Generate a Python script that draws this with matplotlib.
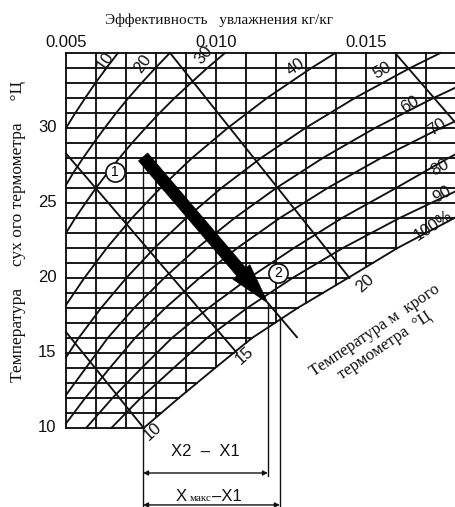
import numpy as np
import matplotlib.pyplot as plt

# Психрометрическая диаграмма: влагосодержание X (кг/кг) и температура сухого термометра (°C)
w_ticks = [0.005, 0.010, 0.015]
w_tick_labels = ['0.005', '0.010', '0.015']
t_ticks = [10, 15, 20, 25, 30]
w_grid = [0.005, 0.006, 0.007, 0.008, 0.009, 0.010, 0.011, 0.012,
          0.013, 0.014, 0.015, 0.016, 0.017]
t_grid = list(range(10, 36))

# линия насыщения (100 %)
sat_t = [10, 12, 14, 16, 18, 20, 22, 24, 25.5]
sat_w = [0.00759, 0.00876, 0.00997, 0.01120, 0.01272, 0.01440, 0.01605, 0.01795, 0.0195]

rh10_t = [30.0, 31, 32, 33, 34, 35]
rh10_w = [0.00500, 0.00531, 0.00564, 0.00598, 0.00635, 0.00673]
rh20_t = [26.2, 27, 28, 29, 30, 31, 32, 33, 34, 35]
rh20_w = [0.00500, 0.00524, 0.00557, 0.00592, 0.00629, 0.00667, 0.00708, 0.00752, 0.00798, 0.00846]
rh30_t = [23.0, 24, 25, 26, 27, 28, 29, 30, 31, 32, 33, 34, 35]
rh30_w = [0.00500, 0.00531, 0.00565, 0.00600, 0.00638, 0.00678, 0.00720, 0.00765,
          0.00812, 0.00862, 0.00916, 0.00971, 0.01030]
rh40_t = [18.2, 20, 22, 24, 26, 28, 30, 32, 34, 35]
rh40_w = [0.00500, 0.00561, 0.00636, 0.00720, 0.00815, 0.00920, 0.01039, 0.01170, 0.01318, 0.01398]
rh50_t = [14.7, 16, 18, 20, 22, 24, 26, 28, 30, 32, 34, 35]
rh50_w = [0.00500, 0.00542, 0.00617, 0.00701, 0.00795, 0.00901, 0.01018, 0.01150,
          0.01298, 0.01463, 0.01647, 0.01748]
rh60_t = [12.2, 14, 16, 18, 20, 22, 24, 26, 28, 30, 32, 33]
rh60_w = [0.00500, 0.00566, 0.00639, 0.00727, 0.00827, 0.00937, 0.01062, 0.01201,
          0.01356, 0.01530, 0.01725, 0.01831]
rh70_t = [10.3, 12, 14, 16, 18, 20, 22, 24, 26, 28, 30, 31]
rh70_w = [0.00500, 0.00564, 0.00646, 0.00730, 0.00831, 0.00945, 0.01071, 0.01213,
          0.01372, 0.01550, 0.01749, 0.01856]
rh80_t = [10, 12, 14, 16, 18, 20, 22, 24, 26, 28, 29]
rh80_w = [0.00567, 0.00655, 0.00752, 0.00853, 0.00975, 0.01110, 0.01260, 0.01420,
          0.01600, 0.01775, 0.01870]
rh90_t = [10, 12, 14, 16, 18, 20, 22, 24, 26, 27]
rh90_w = [0.00651, 0.00749, 0.00859, 0.00970, 0.01104, 0.01255, 0.01423, 0.01612, 0.01822, 0.0194]

rh_lines = [(rh10_w, rh10_t), (rh20_w, rh20_t), (rh30_w, rh30_t), (rh40_w, rh40_t),
            (rh50_w, rh50_t), (rh60_w, rh60_t), (rh70_w, rh70_t), (rh80_w, rh80_t),
            (rh90_w, rh90_t)]
rh_labels = ['10', '20', '30', '40', '50', '60', '70', '80', '90', '100%']
rh_label_w = [0.0063, 0.00757, 0.0096, 0.01267, 0.01553, 0.01647, 0.01737, 0.01747, 0.01753, 0.01723]
rh_label_t = [34.5, 34.25, 34.85, 34.05, 33.85, 31.6, 30.05, 27.4, 25.55, 23.5]
rh_label_rot = [55, 55, 50, 35, 30, 30, 35, 30, 30, 33]

# линии температуры мокрого термометра: (W, T) начала и конца
wb_labels = ['10', '15', '20']
wb10_w = [0.00759, 0.00500]
wb10_t = [10.0, 16.4]
wb15_w = [0.01070, 0.00500]
wb15_t = [15.0, 28.3]
wb20_w = [0.01445, 0.00847]
wb20_t = [20.0, 35.0]
wb25_w = [0.0203, 0.01597]
wb25_t = [25.0, 35.0]
wb_label_w = [0.0079, 0.01097, 0.01497]
wb_label_t = [9.75, 14.85, 19.65]

# процесс увлажнения 1 -> 2
x1, t1 = 0.00757, 28.07
x2, t2 = 0.01173, 18.33
xmax, tmax = 0.01213, 17.35
x_end, t_end = 0.0127, 16.05

ink = '#111111'
sans = 'Liberation Sans'
serif = 'Liberation Serif'

fig = plt.figure(figsize=(4.56, 5.07), dpi=100)
ax = fig.add_axes([0, 0, 1, 1])
ax.set_xlim(0.0028, 0.018)
ax.set_ylim(4.733, 38.533)
ax.axis('off')

lw = 1.35
# вертикальная сетка
for w in w_grid:
    t_low = 10 if w <= sat_w[0] else np.interp(w, sat_w, sat_t)
    ax.plot([w, w], [t_low, 35], color=ink, lw=lw)
# горизонтальная сетка
for t in t_grid:
    w_hi = np.interp(t, sat_t, sat_w)
    ax.plot([0.005, w_hi], [t, t], color=ink, lw=lw)

ax.plot(sat_w, sat_t, color=ink, lw=lw)
for w, t in rh_lines:
    ax.plot(w, t, color=ink, lw=lw)
for w, t in [(wb10_w, wb10_t), (wb15_w, wb15_t), (wb20_w, wb20_t), (wb25_w, wb25_t)]:
    ax.plot(w, t, color=ink, lw=lw)

for s, w, t, r in zip(rh_labels, rh_label_w, rh_label_t, rh_label_rot):
    ax.text(w, t, s, fontsize=12, family=sans, rotation=r, ha='center', va='center', color=ink)
for s, w, t in zip(wb_labels, wb_label_w, wb_label_t):
    ax.text(w, t, s, fontsize=12, family=sans, rotation=42, ha='center', va='center', color=ink)

# подписи осей
for w, s in zip(w_ticks, w_tick_labels):
    ax.text(w, 35.7, s, fontsize=12, family=sans, ha='center', va='center', color=ink)
for t in t_ticks:
    ax.text(0.00468, t, str(t), fontsize=12, family=sans, ha='right', va='center', color=ink)
ax.text(0.0101, 37.2, 'Эффективность   увлажнения кг/кг', fontsize=11, family=serif,
        ha='center', va='center', color=ink)
ax.text(0.0034, 23.1, 'Температура     сух ого термометра     °Ц', fontsize=12.5, family=serif,
        rotation=90, ha='center', va='center', color=ink)
ax.text(0.01545, 16.0, 'Температура м  крого\nтермометра  °Ц', fontsize=12, family=serif,
        rotation=34, ha='center', va='center', multialignment='center',
        linespacing=1.15, color=ink)

# процесс
ax.plot([x2, x_end], [t2, t_end], color=ink, lw=lw)
ax.annotate('', xy=(x2, t2), xytext=(x1, t1),
            arrowprops=dict(arrowstyle='simple,head_length=2.1,head_width=1.15,tail_width=0.62',
                            mutation_scale=14, fc='black', ec='black', lw=0.5,
                            shrinkA=0, shrinkB=0))
ax.scatter([0.00663, 0.01207], [27.07, 20.33], s=190, facecolor='white', edgecolor=ink,
           linewidth=1.2, zorder=5)
ax.text(0.00663, 27.07, '1', fontsize=10, family=sans, ha='center', va='center', zorder=6)
ax.text(0.01207, 20.33, '2', fontsize=10, family=sans, ha='center', va='center', zorder=6)

# размерные линии
ax.plot([x1, x1], [t1, 4.733], color=ink, lw=1.0)
ax.plot([x2, x2], [t2, 6.8], color=ink, lw=1.0)
ax.plot([xmax, xmax], [tmax, 4.733], color=ink, lw=1.0)
ax.annotate('', xy=(x2, 7.0), xytext=(x1, 7.0),
            arrowprops=dict(arrowstyle='<|-|>', mutation_scale=7, lw=1.0, color=ink,
                            shrinkA=0, shrinkB=0))
ax.annotate('', xy=(xmax, 4.87), xytext=(x1, 4.87),
            arrowprops=dict(arrowstyle='<|-|>', mutation_scale=7, lw=1.0, color=ink,
                            shrinkA=0, shrinkB=0))
ax.text(0.00963, 8.4, 'X2  –  X1', fontsize=12, family=sans, ha='center', va='center', color=ink)
ax.text(0.00867, 5.4, 'X', fontsize=12, family=sans, ha='left', va='center', color=ink)
ax.text(0.00912, 5.3, 'макс', fontsize=8, family=serif, ha='left', va='center', color=ink)
ax.text(0.00985, 5.4, '–X1', fontsize=12, family=sans, ha='left', va='center', color=ink)

fig.savefig('out.png', dpi=100)
